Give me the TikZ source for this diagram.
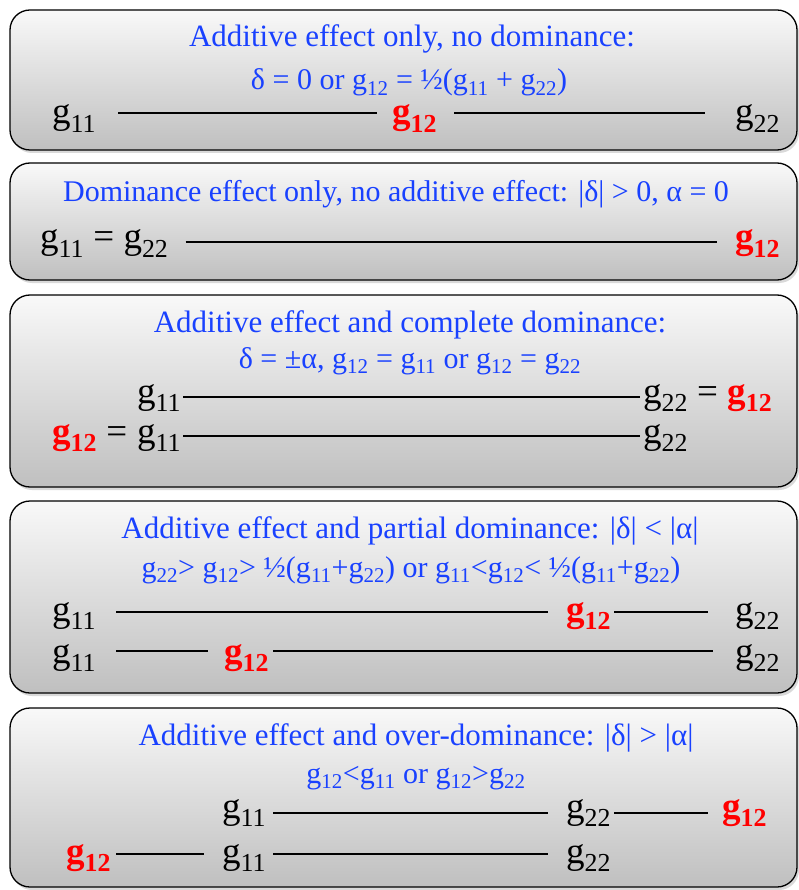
\documentclass[tikz,border=0pt]{standalone}
\usepackage{fontspec}
\setmainfont{Liberation Serif}
\usetikzlibrary{shadows}
\definecolor{ttlblue}{RGB}{25,65,255}
\definecolor{hired}{RGB}{255,0,0}
\newcommand{\gs}[1]{g\textsubscript{#1}}
\newcommand{\rg}{\textcolor{hired}{\textbf{g\textsubscript{12}}}}

\begin{document}
\begin{tikzpicture}[x=1pt,y=-1pt,
  panel/.style={draw=black,line width=1.3pt,rounded corners=20pt,
                top color=gray!5,bottom color=gray!50,
                drop shadow={shadow xshift=2pt,shadow yshift=-3pt,opacity=0.3}},
  ttl/.style={text=ttlblue,font=\fontsize{31}{33}\selectfont,anchor=base,inner sep=0pt},
  ttlb/.style={ttl,font=\fontsize{30}{32}\selectfont},
  term/.style={font=\fontsize{37}{40}\selectfont,anchor=base west,inner sep=0pt},
  bar/.style={line width=1.6pt}
]
  \useasboundingbox (0,0) rectangle (799,890);

  % panels
  \path[panel] (10,10)  rectangle (797,150);
  \path[panel] (10,163) rectangle (797,280);
  \path[panel] (10,295) rectangle (797,487);
  \path[panel] (10,501) rectangle (797,693);
  \path[panel] (10,708) rectangle (797,887);

  % additive only
  \node[ttl] (t1a) at (412,47) {Additive effect only, no dominance:};
  \node[ttlb] (t1b) at (409,90) {δ = 0 or \gs{12} = ½(\gs{11} + \gs{22})};
  \node[term] (p1a) at (52,124)  {\gs{11}};
  \node[term] (p1b) at (392,124) {\rg};
  \node[term] (p1c) at (735,124) {\gs{22}};
  \draw[bar] ([shift={(22,-11)}]p1a.base east) -- ([shift={(-15,-11)}]p1b.base west);
  \draw[bar] ([shift={(17,-11)}]p1b.base east) -- ([shift={(-30,-11)}]p1c.base west);

  % dominance only
  \node[ttlb] (t2a) at (396,202) {Dominance effect only, no additive effect: |δ| > 0, α = 0};
  \node[term] (p2a) at (40,249)  {\gs{11} = \gs{22}};
  \node[term] (p2b) at (735,249) {\rg};
  \draw[bar] ([shift={(17,-7)}]p2a.base east) -- ([shift={(-18,-7)}]p2b.base west);

  % complete dominance
  \node[ttl] (t3a) at (410,332) {Additive effect and complete dominance:};
  \node[ttlb] (t3b) at (410,368) {δ = ±α, \gs{12} = \gs{11} or \gs{12} = \gs{22}};
  \node[term] (p3a) at (137,403) {\gs{11}};
  \node[term] (p3b) at (643,403) {\gs{22}};
  \node[term] (p3c) at (697,403) {= \rg};
  \draw[bar] ([shift={(2,-6)}]p3a.base east) -- ([shift={(-3,-6)}]p3b.base west);
  \node[term] (p3d) at (52,443)  {\rg{} =};
  \node[term] (p3e) at (137,443) {\gs{11}};
  \node[term] (p3f) at (643,443) {\gs{22}};
  \draw[bar] ([shift={(2,-7)}]p3e.base east) -- ([shift={(-3,-7)}]p3f.base west);

  % partial dominance
  \node[ttl] (t4a) at (410,538) {Additive effect and partial dominance: |δ| < |α|};
  \node[ttlb] (t4b) at (411,577) {\gs{22}> \gs{12}> ½(\gs{11}+\gs{22}) or \gs{11}<\gs{12}< ½(\gs{11}+\gs{22})};
  \node[term] (p4a) at (52,621)  {\gs{11}};
  \node[term] (p4b) at (566,621) {\rg};
  \node[term] (p4c) at (735,621) {\gs{22}};
  \draw[bar] ([shift={(20,-9)}]p4a.base east) -- ([shift={(-18,-9)}]p4b.base west);
  \draw[bar] ([shift={(3,-9)}]p4b.base east) -- ([shift={(-27,-9)}]p4c.base west);
  \node[term] (p4d) at (52,663)  {\gs{11}};
  \node[term] (p4e) at (224,663) {\rg};
  \node[term] (p4f) at (735,663) {\gs{22}};
  \draw[bar] ([shift={(20,-12)}]p4d.base east) -- ([shift={(-16,-12)}]p4e.base west);
  \draw[bar] ([shift={(4,-12)}]p4e.base east) -- ([shift={(-22,-12)}]p4f.base west);

  % over-dominance
  \node[ttl] (t5a) at (416,745) {Additive effect and over-dominance: |δ| > |α|};
  \node[ttlb] (t5b) at (416,783) {\gs{12}<\gs{11} or \gs{12}>\gs{22}};
  \node[term] (p5a) at (222,818) {\gs{11}};
  \node[term] (p5b) at (566,818) {\gs{22}};
  \node[term] (p5c) at (722,818) {\rg};
  \draw[bar] ([shift={(7,-5)}]p5a.base east) -- ([shift={(-18,-5)}]p5b.base west);
  \draw[bar] ([shift={(3,-5)}]p5b.base east) -- ([shift={(-14,-5)}]p5c.base west);
  \node[term] (p5d) at (66,863)  {\rg};
  \node[term] (p5e) at (222,863) {\gs{11}};
  \node[term] (p5f) at (566,863) {\gs{22}};
  \draw[bar] ([shift={(5,-9)}]p5d.base east) -- ([shift={(-18,-9)}]p5e.base west);
  \draw[bar] ([shift={(7,-9)}]p5e.base east) -- ([shift={(-18,-9)}]p5f.base west);
\end{tikzpicture}
\end{document}
